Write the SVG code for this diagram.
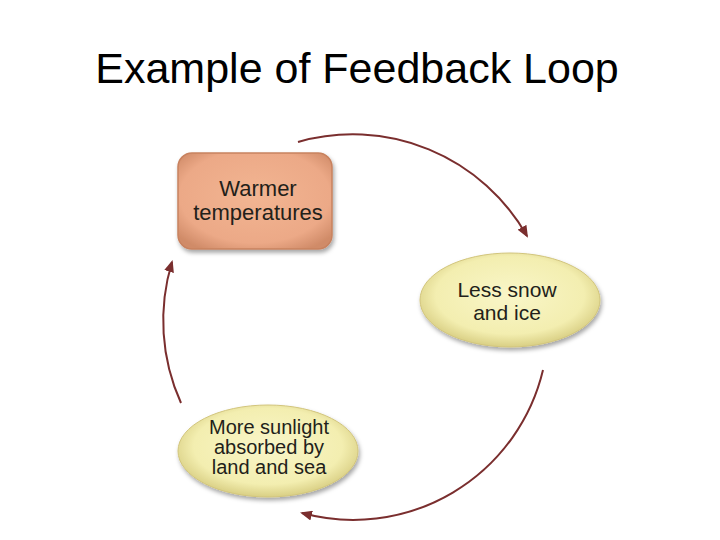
<svg xmlns="http://www.w3.org/2000/svg" width="720" height="540" viewBox="0 0 720 540">
  <defs>
    <style>
      .title { font-family: "Liberation Sans", Arial, sans-serif; font-size: 43px; fill: #000; }
      .lbl { font-family: "Liberation Sans", Arial, sans-serif; fill: #231f1a; text-anchor: middle; }
      .conn { fill: none; stroke: #7a2e2e; stroke-width: 2; marker-end: url(#ah); }
    </style>
    <marker id="ah" viewBox="0 0 12 10" refX="10" refY="5" markerWidth="12" markerHeight="10" markerUnits="userSpaceOnUse" orient="auto">
      <path d="M0,0 L12,5 L0,10 Z" fill="#7a2e2e"/>
    </marker>
    <radialGradient id="gRect" cx="50%" cy="45%" r="65%">
      <stop offset="0" stop-color="#f2b592"/>
      <stop offset="0.75" stop-color="#eca987"/>
      <stop offset="1" stop-color="#d08b68"/>
    </radialGradient>
    <radialGradient id="gEll" cx="50%" cy="45%" r="55%">
      <stop offset="0" stop-color="#f9f6c8"/>
      <stop offset="0.75" stop-color="#f3eeb0"/>
      <stop offset="1" stop-color="#d9cf84"/>
    </radialGradient>
    <filter id="sh" x="-20%" y="-20%" width="140%" height="150%">
      <feDropShadow dx="1.5" dy="3" stdDeviation="2" flood-color="#000" flood-opacity="0.35"/>
    </filter>
  </defs>
  <rect width="720" height="540" fill="#ffffff"/>
  <text class="title" x="357" y="83" text-anchor="middle">Example of Feedback Loop</text>

  <g id="connectors">
    <path class="conn" d="M298,142 A200,200 0 0 1 527,236"/>
    <path class="conn" d="M543,370 A195,195 0 0 1 302,513"/>
    <path class="conn" d="M181,403 A200,200 0 0 1 172,262"/>
  </g>

  <g id="warmer">
    <rect x="178" y="153" width="154" height="96" rx="14" fill="url(#gRect)" stroke="#c8825f" stroke-width="1.5" filter="url(#sh)"/>
    <text class="lbl" x="258" y="196" font-size="22">Warmer</text>
    <text class="lbl" x="258" y="220" font-size="22">temperatures</text>
  </g>

  <g id="less-snow">
    <ellipse cx="510" cy="300" rx="90" ry="47" fill="url(#gEll)" stroke="#d2c57c" stroke-width="1" filter="url(#sh)"/>
    <text class="lbl" x="507" y="297" font-size="21">Less snow</text>
    <text class="lbl" x="507" y="320" font-size="21">and ice</text>
  </g>

  <g id="more-sunlight">
    <ellipse cx="268" cy="451" rx="90" ry="46" fill="url(#gEll)" stroke="#d2c57c" stroke-width="1" filter="url(#sh)"/>
    <text class="lbl" x="269" y="434" font-size="20">More sunlight</text>
    <text class="lbl" x="269" y="454" font-size="20">absorbed by</text>
    <text class="lbl" x="269" y="474" font-size="20">land and sea</text>
  </g>
</svg>
